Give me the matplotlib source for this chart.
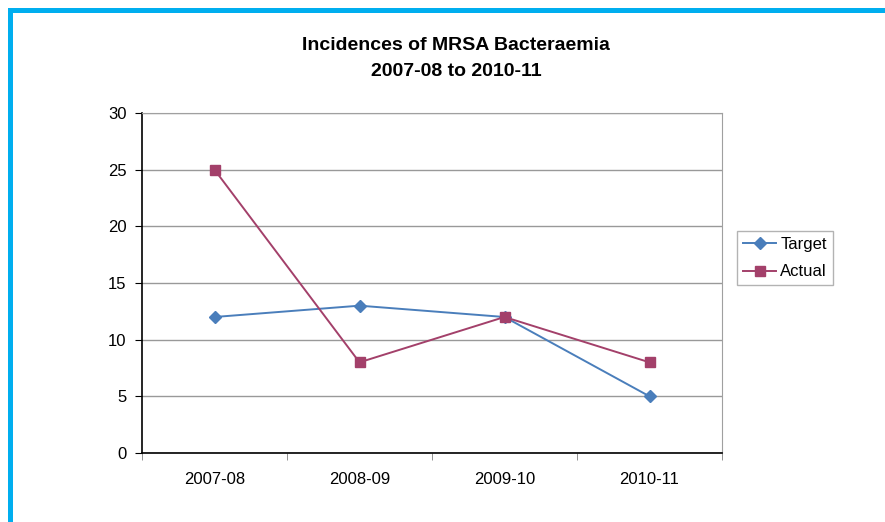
import matplotlib
matplotlib.use("Agg")
import matplotlib.pyplot as plt
from matplotlib.patches import Rectangle
import numpy as np

categories = ["2007-08", "2008-09", "2009-10", "2010-11"]
target = [12, 13, 12, 5]
actual = [25, 8, 12, 8]
yticks = [0, 5, 10, 15, 20, 25, 30]

plt.rcParams['font.family'] = ['Liberation Sans', 'DejaVu Sans']

W, H = 885, 522
fig = plt.figure(figsize=(W / 100, H / 100), dpi=100)

# blue frame
fig.patches.append(Rectangle((8 / W, 1 - 13 / H), 1 - 8 / W, 5 / H, transform=fig.transFigure,
                             facecolor="#00AEEF", edgecolor="none"))
fig.patches.append(Rectangle((8 / W, 0), 5 / W, 1 - 8 / H, transform=fig.transFigure,
                             facecolor="#00AEEF", edgecolor="none"))

ax = fig.add_axes([142 / W, 1 - 453 / H, (722 - 142) / W, (453 - 113) / H])
x = np.arange(len(categories))
ax.plot(x, target, color="#4A7EBB", marker="D", markersize=6, linewidth=1.4, label="Target")
ax.plot(x, actual, color="#A3406A", marker="s", markersize=7, linewidth=1.4, label="Actual")

ax.set_xlim(-0.5, len(categories) - 0.5)
ax.set_ylim(0, 30)
ax.set_yticks(yticks)
ax.set_xticks(x)
ax.set_xticklabels(categories)
ax.set_xticks(np.arange(-0.5, len(categories), 1.0), minor=True)
ax.tick_params(axis="x", which="major", length=0, pad=14, labelsize=12)
ax.tick_params(axis="x", which="minor", length=5, color="#808080", direction="out")
ax.tick_params(axis="y", length=5, direction="out", labelsize=12, pad=6)
ax.grid(axis="y", color="#999999", linewidth=1)
ax.set_axisbelow(True)
for s in ["top", "right"]:
    ax.spines[s].set_color("#A0A0A0")
for s in ["left", "bottom"]:
    ax.spines[s].set_color("black")
    ax.spines[s].set_linewidth(1.2)

fig.text(456 / W, 1 - 45 / H, "Incidences of MRSA Bacteraemia", ha="center", va="center",
         fontsize=14, fontweight="bold")
fig.text(456 / W, 1 - 71 / H, "2007-08 to 2010-11", ha="center", va="center",
         fontsize=14, fontweight="bold")

leg = fig.legend(loc="upper left", bbox_to_anchor=(737 / W, 1 - 231 / H), fontsize=12,
                 frameon=True, fancybox=False, edgecolor="#A0A0A0", borderaxespad=0,
                 handlelength=2.0, handletextpad=0.25, borderpad=0.35, labelspacing=0.75)
leg.get_frame().set_linewidth(1)

fig.savefig("out.png", dpi=100)
